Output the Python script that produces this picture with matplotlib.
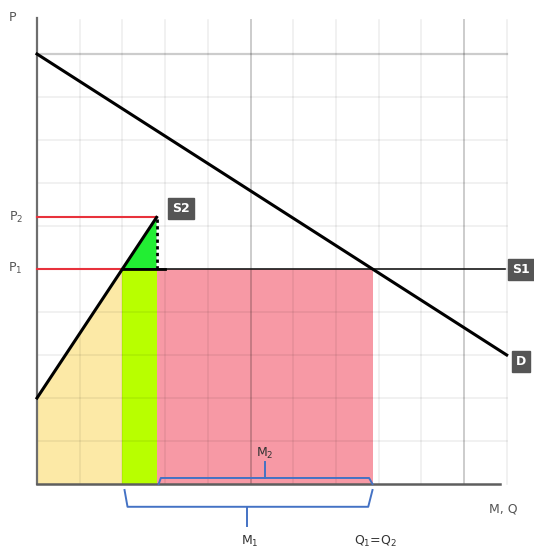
"""
Import quota diagram: supply S1/S2, demand D, import areas M1 and M2
"""

import numpy as np
import matplotlib.pyplot as plt

plt.rcParams['font.family'] = ['DejaVu Sans']
plt.rcParams['mathtext.default'] = 'regular'

# Demand line end points (grid units)
demand_q = [0, 11]
demand_p = [10, 3]
# Domestic supply S2 end points
s2_q = [0, 2.8]
s2_p = [2, 6.2]
# Prices
P1 = 5.0
P2 = 6.2
# Supply S1 runs horizontally at P1 up to this quantity
S1_END = 10.96

# Derived quantities
q_dom = np.interp(P1, s2_p, s2_q)            # where S2 meets P1
q_quota = s2_q[1]                             # top of S2
q_eq = np.interp(P1, demand_p[::-1], demand_q[::-1])  # D meets S1

GRID_X = list(range(0, 12))
GRID_Y = list(range(1, 11))

fig = plt.figure(figsize=(5.34, 5.51), dpi=100)
ax = fig.add_axes([0, 0, 1, 1])
ax.set_xlim(-37 / 42.7, (534 - 37) / 42.7)
ax.set_ylim((484 - 551) / 43, 484 / 43)
ax.axis('off')

# Filled areas
ax.fill([0, 0, q_dom, q_dom], [0, s2_p[0], P1, 0], color='#fce9a6', lw=0)
ax.fill([q_dom, q_dom, q_quota, q_quota], [0, P1, P1, 0], color='#b8ff00', lw=0)
ax.fill([q_dom, q_quota, q_quota], [P1, P2, P1], color='#22ee33', lw=0)
ax.fill([q_quota, q_quota, q_eq, q_eq], [0, P1, P1, 0], color='#f799a5', lw=0)

# Grid, drawn over the fills so it shows through
for gx in GRID_X:
    major = gx % 5 == 0 and gx > 0
    ax.plot([gx, gx], [0, 10.8], color='k', alpha=0.2 if major else 0.07,
            lw=1.4 if major else 1.1, zorder=2)
for gy in GRID_Y:
    major = gy == 10
    ax.plot([0, 11], [gy, gy], color='k', alpha=0.2 if major else 0.07,
            lw=1.6 if major else 1.1, zorder=2)

# Axes
ax.plot([0, 0], [0, 10.84], color='#6e6e6e', lw=1.6, zorder=3)
ax.plot([0, 10.84], [0, 0], color='#5e5e5e', lw=1.8, zorder=3)

# Price lines
ax.plot([0, q_dom], [P1, P1], color='#e8323c', lw=1.5, zorder=3)
ax.plot([0, q_quota], [P2, P2], color='#e8323c', lw=1.5, zorder=3)

# Supply and demand
ax.plot([q_dom, S1_END], [P1, P1], color='#1a1a1a', lw=1.2, zorder=4)
ax.plot([q_dom, 3.0], [P1, P1], color='k', lw=2.0, zorder=4)
ax.plot(s2_q, s2_p, color='k', lw=2.2, zorder=4)
ax.plot([q_quota, q_quota], [P1, P2], color='k', lw=2.0,
        ls=(0, (1.2, 1.2)), zorder=4)
ax.plot(demand_q, demand_p, color='k', lw=2.2, zorder=4)

# Curve labels
box = dict(boxstyle='square,pad=0.32', fc='#555555', ec='#555555')
for txt, x, y in [('S2', 3.37, 6.40), ('S1', 11.33, 4.98), ('D', 11.33, 2.84)]:
    ax.text(x, y, txt, color='white', fontsize=9, fontweight='bold',
            ha='center', va='center', bbox=box, zorder=5)

# Braces
blue = '#4472c4'
ax.plot([q_quota + 0.05, q_quota + 0.1, q_eq - 0.08, q_eq],
        [0.0, 0.14, 0.14, 0.0], color=blue, lw=1.4, zorder=5)
ax.plot([(q_quota + q_eq) / 2] * 2, [0.14, 0.51], color=blue, lw=1.4, zorder=5)
ax.plot([q_dom + 0.05, q_dom + 0.12, q_eq - 0.1, q_eq],
        [-0.14, -0.53, -0.53, -0.14], color=blue, lw=1.4, zorder=5)
ax.plot([(q_dom + q_eq) / 2] * 2, [-0.53, -0.97], color=blue, lw=1.4, zorder=5)

# Text
grey = '#555555'
ax.text(-0.585, 10.84, 'P', color=grey, fontsize=9, ha='center', va='center')
ax.text(-0.5, P2, 'P$_2$', color=grey, fontsize=9, ha='center', va='center')
ax.text(-0.5, P1 + 0.02, 'P$_1$', color=grey, fontsize=9, ha='center', va='center')
ax.text((q_quota + q_eq) / 2, 0.72, 'M$_2$', color='#333333', fontsize=9,
        ha='center', va='center')
ax.text((q_dom + q_eq) / 2 + 0.05, -1.34, 'M$_1$', color='#333333', fontsize=9,
        ha='center', va='center')
ax.text(q_eq + 0.08, -1.34, 'Q$_1$=Q$_2$', color='#333333', fontsize=9,
        ha='center', va='center')
ax.text(10.91, -0.57, 'M, Q', color=grey, fontsize=9, ha='center', va='center')

fig.savefig('out.png', dpi=100)
